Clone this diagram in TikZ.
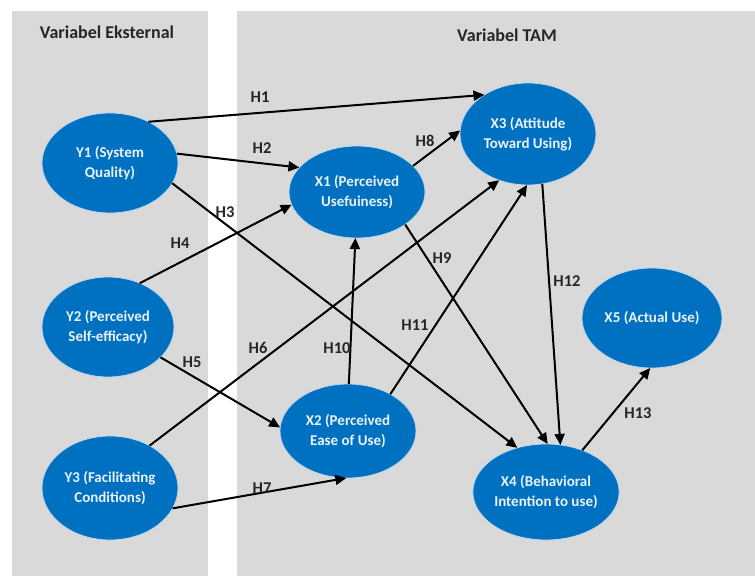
\documentclass[tikz,border=0pt]{standalone}
\usepackage{fontspec}
\setmainfont{Carlito}
\usetikzlibrary{shapes.geometric,arrows.meta}
\definecolor{panelgray}{HTML}{D9D9D9}
\definecolor{nodeblue}{HTML}{0070C0}
\definecolor{edgeblue}{HTML}{BDD7EE}
\definecolor{nodetext}{HTML}{EAF2FA}
\tikzset{
  var/.style={ellipse, fill=nodeblue, draw=edgeblue, line width=0.8pt, inner sep=0pt, outer sep=0pt,
    text=nodetext, align=center, font=\bfseries\fontsize{15}{20}\selectfont},
  link/.style={line width=2pt, -{Triangle[length=11pt,width=10pt]}},
  hlabel/.style={font=\bfseries\fontsize{16.5}{18}\selectfont, text=black!85, inner sep=0pt},
  paneltitle/.style={font=\bfseries\fontsize{18}{22}\selectfont, text=black!85, inner sep=0pt}
}
\begin{document}
\begin{tikzpicture}[x=1pt,y=-1pt]
\useasboundingbox (0,0) rectangle (755,576);
\fill[white] (0,0) rectangle (755,576);
\fill[panelgray] (12,11) rectangle (208,576);
\fill[panelgray] (237,11) rectangle (755,576);
\node[paneltitle] (t1) at (107,32) {Variabel Eksternal};
\node[paneltitle] (t2) at (507,35) {Variabel TAM};

\node[var, minimum width=136pt, minimum height=100pt] (Y1) at (110,163) {Y1 (System\\Quality)};
\node[var, minimum width=132pt, minimum height=100pt] (Y2) at (108,327) {Y2 (Perceived\\Self-efficacy)};
\node[var, minimum width=136pt, minimum height=104pt] (Y3) at (110,488) {Y3 (Facilitating\\Conditions)};
\node[var, minimum width=136pt, minimum height=92pt] (X1) at (357,192) {X1 (Perceived\\Usefuiness)};
\node[var, minimum width=136pt, minimum height=94pt] (X2) at (348,431) {X2 (Perceived\\Ease of Use)};
\node[var, minimum width=136pt, minimum height=102pt] (X3) at (528,134) {X3 (Attitude\\Toward Using)};
\node[var, minimum width=134pt, minimum height=96pt] (X4) at (546,492) {X4 (Behavioral\\Intention to use)};
\node[var, minimum width=140pt, minimum height=100pt] (X5) at (652,318) {X5 (Actual Use)};

\draw[link] (Y1.47) -- (X3.138);
\draw[link] (Y1.8) -- (X1.157);
\draw[link] (Y1.-18) -- (X4.123);
\draw[link] (Y2.54) -- (X1.191);
\draw[link] (Y2.-30) -- (X2.177);
\draw[link] (Y3.47) -- (X3.238);
\draw[link] (Y3.-18) -- (X2.268);
\draw[link] (X1.25) -- (X3.177);
\draw[link] (X1.-34) -- (X4.88);
\draw[link] (X2.89) -- (X1.268);
\draw[link] (X2.41) -- (X3.269);
\draw[link] (X3.286) -- (X4.73);
\draw[link] (X4.49) -- (X5.268);

\node[hlabel] (h1) at (260,97) {H1};
\node[hlabel] (h2) at (262,148) {H2};
\node[hlabel] (h3) at (225,212) {H3};
\node[hlabel] (h4) at (180,243) {H4};
\node[hlabel] (h5) at (192,362) {H5};
\node[hlabel] (h6) at (258,348) {H6};
\node[hlabel] (h7) at (262,488) {H7};
\node[hlabel] (h8) at (425,141) {H8};
\node[hlabel] (h9) at (442,258) {H9};
\node[hlabel] (h10) at (337,348) {H10};
\node[hlabel] (h11) at (415,325) {H11};
\node[hlabel] (h12) at (567,281) {H12};
\node[hlabel] (h13) at (638,413) {H13};
\end{tikzpicture}
\end{document}
